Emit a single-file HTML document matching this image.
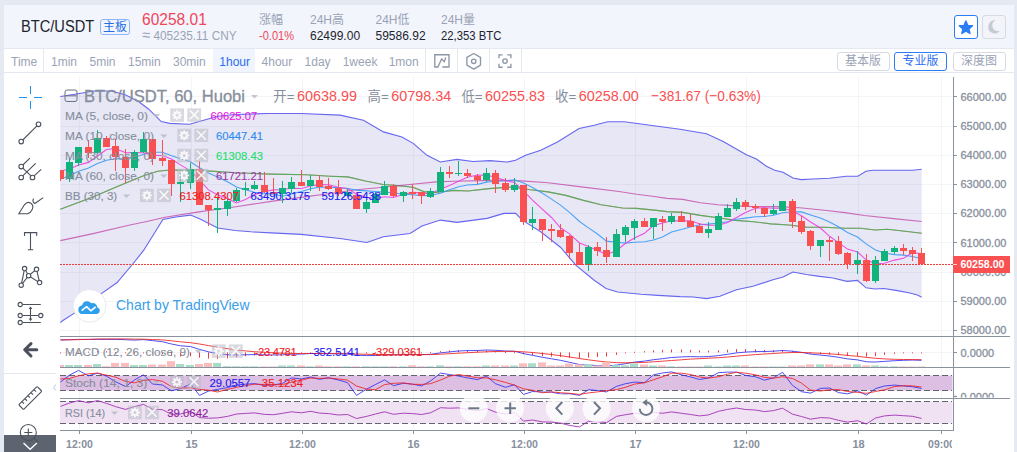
<!DOCTYPE html>
<html><head><meta charset="utf-8"><title>BTC/USDT</title>
<style>
html,body{margin:0;padding:0}
body{width:1017px;height:452px;overflow:hidden;position:relative;background:#e4e9f2;font-family:"Liberation Sans","Noto Sans CJK SC",sans-serif;}
.abs{position:absolute}
#panel{left:4px;top:5px;width:1010px;height:447px;background:#fff}
#hdr{left:4px;top:5px;width:1010px;height:43px;background:#f2f5fc;border-bottom:1px solid #e3e8f1}
#tb{left:4px;top:49px;width:1010px;height:23px;background:#fff;border-bottom:1px solid #e3e8f1}
.t{position:absolute;white-space:nowrap;line-height:1}
.g{color:#9aa3b5}.d{color:#1c242c}.r{color:#f0465a}
.tbi{position:absolute;top:55.5px;font-size:12px;color:#9aa3b5;line-height:1;white-space:nowrap}
.vs{position:absolute;top:49px;width:1px;height:23px;background:#e3e8f1}
.btn{position:absolute;top:52px;width:51px;height:17px;border:1px solid #d5dae3;border-radius:3px;font-size:12px;line-height:17px;text-align:center;color:#9aa3b5;background:#fff}
svg{position:absolute;left:0;top:0}
</style></head><body>
<div class="abs" id="panel"></div>
<div class="abs" id="hdr"></div>
<div class="abs" id="tb"></div>

<div class="t d" style="left:20.7px;top:19.3px;font-size:16px;transform-origin:0 0;transform:scaleX(0.915)">BTC/USDT</div>
<div class="abs" style="left:100px;top:19px;width:28px;height:14px;border:1px solid #8db6fa;border-radius:3px;font-size:12px;line-height:14px;text-align:center;color:#1f6fe8">主板</div>
<div class="t" style="left:142.4px;top:11.5px;font-size:16px;color:#f0465a;transform-origin:0 0;transform:scaleX(0.972)">60258.01</div>
<div class="t g" style="left:142.4px;top:29.3px;font-size:12px;transform-origin:0 0;transform:scaleX(0.985)"><span style="font-size:15px;line-height:12px;vertical-align:-0.5px">≈</span> 405235.11 CNY</div>

<div class="t g" style="left:259px;top:13.5px;font-size:12px">涨幅</div>
<div class="t r" style="left:259px;top:30px;font-size:12px;transform-origin:0 0;transform:scaleX(0.92)">-0.01%</div>
<div class="t g" style="left:310px;top:13.5px;font-size:12px">24H高</div>
<div class="t d" style="left:310px;top:30px;font-size:12px">62499.00</div>
<div class="t g" style="left:375.5px;top:13.5px;font-size:12px">24H低</div>
<div class="t d" style="left:375.5px;top:30px;font-size:12px">59586.92</div>
<div class="t g" style="left:441px;top:13.5px;font-size:12px">24H量</div>
<div class="t d" style="left:441px;top:30px;font-size:12px;transform-origin:0 0;transform:scaleX(0.942)">22,353 BTC</div>

<div class="abs" style="left:954px;top:15px;width:22px;height:22px;border:1px solid #2a7df5;border-radius:3px;background:#fff"></div>
<div class="abs" style="left:982px;top:15px;width:22px;height:22px;border:1px solid #d5dae3;border-radius:3px;background:#f2f4f9"></div>

<div class="abs" style="left:213px;top:49px;width:42px;height:23px;background:#f0f4fc"></div>
<div class="tbi" style="left:11px">Time</div>
<div class="vs" style="left:43px"></div>
<div class="tbi" style="left:51px">1min</div>
<div class="tbi" style="left:89.5px">5min</div>
<div class="tbi" style="left:128px">15min</div>
<div class="tbi" style="left:173px">30min</div>
<div class="tbi" style="left:219.3px;color:#2a6df5">1hour</div>
<div class="tbi" style="left:261.6px">4hour</div>
<div class="tbi" style="left:304.6px">1day</div>
<div class="tbi" style="left:342.7px">1week</div>
<div class="tbi" style="left:388.7px">1mon</div>
<div class="vs" style="left:425px"></div>
<div class="vs" style="left:457px"></div>
<div class="vs" style="left:489px"></div>
<div class="vs" style="left:521px"></div>

<div class="btn" style="left:836.5px">基本版</div>
<div class="btn" style="left:894px;border-color:#2a7df5;color:#2a6df5">专业版</div>
<div class="btn" style="left:952.5px">深度图</div>

<svg width="1017" height="452" viewBox="0 0 1017 452">

<path d="M965.90 20.90L967.78 25.31L972.56 25.74L968.94 28.89L970.01 33.56L965.90 31.10L961.79 33.56L962.86 28.89L959.24 25.74L964.02 25.31z" fill="#2a7df5" stroke="#2a7df5" stroke-width="1.3" stroke-linejoin="round"/>
<path d="M995.6 20.2a6.6 6.6 0 1 0 4.6 10.4a5.6 5.6 0 0 1-4.6-10.4z" fill="#c6cbd6"/>
<g fill="none" stroke="#8c97a8" stroke-width="1.35">
<path d="M438.2 67h-3.400v-12.3h14.2v12.3h-6.700"/><path d="M437.8 67.200l3.900-8.400l2.500 3.100l1.600-4.300" stroke-linejoin="round"/>
<path d="M473.7 53.500l6.800 3.900v7.800l-6.800 3.900l-6.800-3.900v-7.800z" stroke-linejoin="round"/><circle cx="473.7" cy="61.3" r="2.2"/>
<path d="M499 58.300v-3.500h3.600M507.300 54.800h3.600v3.500M510.900 63.700v3.500h-3.600M502.600 67.200h-3.600v-3.500"/><circle cx="505" cy="61.100" r="2.2"/>
</g>
<defs><clipPath id="cp"><rect x="60" y="73" width="893" height="357.5"/></clipPath><clipPath id="cpm"><rect x="60" y="73" width="893" height="263"/></clipPath><clipPath id="cpt"><rect x="60" y="431" width="892" height="21"/></clipPath><clipPath id="cps"><rect x="954" y="368" width="60" height="29.6"/></clipPath></defs>
<g stroke="#f3f4f8" stroke-width="1" shape-rendering="crispEdges"><line x1="60" x2="953" y1="330.5" y2="330.5"/><line x1="60" x2="953" y1="301.5" y2="301.5"/><line x1="60" x2="953" y1="272.5" y2="272.5"/><line x1="60" x2="953" y1="242.5" y2="242.5"/><line x1="60" x2="953" y1="213.5" y2="213.5"/><line x1="60" x2="953" y1="184.5" y2="184.5"/><line x1="60" x2="953" y1="155.5" y2="155.5"/><line x1="60" x2="953" y1="126.5" y2="126.5"/><line x1="60" x2="953" y1="96.5" y2="96.5"/><line x1="79.5" x2="79.5" y1="77" y2="430"/><line x1="191.5" x2="191.5" y1="77" y2="430"/><line x1="302.5" x2="302.5" y1="77" y2="430"/><line x1="413.5" x2="413.5" y1="77" y2="430"/><line x1="524.5" x2="524.5" y1="77" y2="430"/><line x1="635.5" x2="635.5" y1="77" y2="430"/><line x1="746.5" x2="746.5" y1="77" y2="430"/><line x1="858.5" x2="858.5" y1="77" y2="430"/><line x1="941.5" x2="941.5" y1="77" y2="430"/><line x1="60" x2="953" y1="352.5" y2="352.5"/></g>
<g clip-path="url(#cpm)">
<polygon points="60.3,96.5 78.0,93.8 94.0,91.0 111.6,91.0 125.8,95.0 138.2,101.2 148.8,109.2 161.2,121.6 170.0,123.4 189.5,124.2 205.4,119.8 217.8,116.3 235.0,114.5 267.5,113.5 301.0,113.5 340.0,115.1 363.4,120.2 383.5,131.9 401.9,136.9 413.6,143.6 427.0,155.3 440.3,162.0 457.0,159.4 473.0,161.5 490.0,160.6 507.2,162.0 515.6,160.3 525.6,155.3 540.7,150.3 557.4,141.9 579.1,128.5 594.2,125.2 607.6,121.8 624.3,121.8 657.7,126.2 680.0,129.3 706.6,133.8 723.2,141.4 746.4,154.7 756.4,159.0 766.4,166.3 774.7,170.3 783.0,172.3 793.0,178.0 801.3,179.6 812.9,179.0 829.5,178.3 846.1,176.3 857.7,176.3 866.0,171.3 872.7,170.3 896.0,170.3 912.6,170.3 921.7,169.2 921.7,297.3 917.4,295.0 909.8,293.0 896.0,290.4 883.8,288.5 875.0,289.0 866.0,287.8 857.5,280.4 847.0,281.4 832.8,278.0 819.5,276.4 806.2,274.5 793.0,272.0 783.0,277.0 773.0,279.7 753.0,286.3 736.5,289.7 719.9,296.3 706.6,298.6 693.3,297.0 680.0,296.6 657.7,295.4 641.0,294.3 617.6,292.0 606.0,288.5 594.2,280.3 576.0,265.4 560.7,247.5 540.7,231.8 522.3,220.1 515.6,213.4 504.0,213.4 487.2,218.4 457.0,222.4 440.3,220.1 422.0,226.1 410.0,233.5 383.5,236.8 366.8,242.5 340.0,238.5 301.0,234.4 271.0,232.9 250.8,231.8 235.0,230.5 217.7,228.0 200.0,219.0 190.6,215.1 176.0,217.0 162.9,219.4 143.8,250.2 132.8,264.0 116.9,282.8 100.9,293.9 74.4,313.1 63.7,320.0 60.3,322.5" fill="#2a2ab4" fill-opacity="0.115"/>
<polyline points="60.3,209.3 93.0,197.1 108.0,190.5 125.8,183.0 143.5,175.8 157.7,171.3 170.0,170.0 196.6,170.3 214.3,171.4 235.5,172.8 271.0,174.1 306.6,174.8 330.0,176.2 347.7,176.9 365.4,181.0 383.0,184.5 400.8,185.9 413.0,187.2 423.8,191.6 436.0,192.5 454.0,190.4 468.0,191.0 489.0,188.6 505.0,187.4 512.7,187.1 530.4,189.8 548.0,191.9 565.8,195.4 583.5,200.4 601.2,204.8 622.4,208.0 636.6,208.4 654.3,210.1 667.0,211.6 682.7,212.4 700.4,215.4 718.0,217.7 735.8,220.4 753.5,221.8 771.0,223.9 789.0,225.0 806.6,227.1 824.3,227.3 845.0,228.2 860.8,228.3 875.0,230.0 887.3,229.2 905.0,231.3 921.7,233.3" fill="none" stroke="#e53935" stroke-opacity="0.45" stroke-width="1.1"/>
<polyline points="60.3,209.3 93.0,197.1 108.0,190.5 125.8,183.0 143.5,175.8 157.7,171.3 170.0,170.0 196.6,170.3 214.3,171.4 235.5,172.8 271.0,174.1 306.6,174.8 330.0,176.2 347.7,176.9 365.4,181.0 383.0,184.5 400.8,185.9 413.0,187.2 423.8,191.6 436.0,192.5 454.0,190.4 468.0,191.0 489.0,188.6 505.0,187.4 512.7,187.1 530.4,189.8 548.0,191.9 565.8,195.4 583.5,200.4 601.2,204.8 622.4,208.0 636.6,208.4 654.3,210.1 667.0,211.6 682.7,212.4 700.4,215.4 718.0,217.7 735.8,220.4 753.5,221.8 771.0,223.9 789.0,225.0 806.6,227.1 824.3,227.3 845.0,228.2 860.8,228.3 875.0,230.0 887.3,229.2 905.0,231.3 921.7,233.3" fill="none" stroke="#3fae52" stroke-opacity="0.85" stroke-width="1.1"/>
<polyline points="60.3,240.6 93.0,233.6 128.8,225.2 147.9,221.2 165.0,217.3 200.4,211.6 235.8,206.7 271.2,201.4 306.6,196.6 324.3,194.3 356.5,189.8 383.0,187.2 409.6,184.5 436.2,181.9 453.9,181.3 480.4,180.6 500.0,180.2 521.5,180.9 548.0,182.7 583.5,187.1 619.0,191.5 636.6,194.2 654.3,196.5 667.0,198.4 682.7,199.4 700.4,202.7 718.0,204.8 735.8,205.9 753.5,206.6 778.0,206.6 799.5,207.7 824.3,210.3 845.0,212.6 864.3,215.5 896.2,218.9 921.7,221.5" fill="none" stroke="#c03aa0" stroke-opacity="0.72" stroke-width="1.1"/>
<polyline points="60.3,96.5 78.0,93.8 94.0,91.0 111.6,91.0 125.8,95.0 138.2,101.2 148.8,109.2 161.2,121.6 170.0,123.4 189.5,124.2 205.4,119.8 217.8,116.3 235.0,114.5 267.5,113.5 301.0,113.5 340.0,115.1 363.4,120.2 383.5,131.9 401.9,136.9 413.6,143.6 427.0,155.3 440.3,162.0 457.0,159.4 473.0,161.5 490.0,160.6 507.2,162.0 515.6,160.3 525.6,155.3 540.7,150.3 557.4,141.9 579.1,128.5 594.2,125.2 607.6,121.8 624.3,121.8 657.7,126.2 680.0,129.3 706.6,133.8 723.2,141.4 746.4,154.7 756.4,159.0 766.4,166.3 774.7,170.3 783.0,172.3 793.0,178.0 801.3,179.6 812.9,179.0 829.5,178.3 846.1,176.3 857.7,176.3 866.0,171.3 872.7,170.3 896.0,170.3 912.6,170.3 921.7,169.2" fill="none" stroke="#4444ee" stroke-opacity="0.8" stroke-width="1.1"/>
<polyline points="60.3,322.5 63.7,320.0 74.4,313.1 100.9,293.9 116.9,282.8 132.8,264.0 143.8,250.2 162.9,219.4 176.0,217.0 190.6,215.1 200.0,219.0 217.7,228.0 235.0,230.5 250.8,231.8 271.0,232.9 301.0,234.4 340.0,238.5 366.8,242.5 383.5,236.8 410.0,233.5 422.0,226.1 440.3,220.1 457.0,222.4 487.2,218.4 504.0,213.4 515.6,213.4 522.3,220.1 540.7,231.8 560.7,247.5 576.0,265.4 594.2,280.3 606.0,288.5 617.6,292.0 641.0,294.3 657.7,295.4 680.0,296.6 693.3,297.0 706.6,298.6 719.9,296.3 736.5,289.7 753.0,286.3 773.0,279.7 783.0,277.0 793.0,272.0 806.2,274.5 819.5,276.4 832.8,278.0 847.0,281.4 857.5,280.4 866.0,287.8 875.0,289.0 883.8,288.5 896.0,290.4 909.8,293.0 917.4,295.0 921.7,297.3" fill="none" stroke="#4444ee" stroke-opacity="0.8" stroke-width="1.1"/>
<polyline points="60.5,179.0 69.5,175.7 78.5,171.3 88.5,168.0 97.5,163.5 106.5,160.2 115.5,158.8 125.5,158.8 134.5,157.4 143.5,154.3 152.5,152.3 162.5,152.2 171.5,155.8 180.5,158.7 190.5,161.8 199.5,167.7 208.5,172.9 217.5,176.9 227.5,181.8 236.5,186.9 245.5,189.8 254.5,192.3 264.5,193.2 273.5,194.3 282.5,196.2 291.5,193.9 301.5,191.5 310.5,188.7 319.5,187.3 328.5,187.1 338.5,187.8 347.5,188.5 356.5,190.1 366.5,190.9 375.5,191.5 384.5,192.0 393.5,193.0 403.5,194.2 412.5,194.8 421.5,195.6 430.5,195.3 440.5,193.3 449.5,189.8 458.5,186.8 467.5,185.0 477.5,184.4 486.5,182.1 495.5,181.3 505.5,180.9 514.5,179.8 523.5,182.9 532.5,187.6 542.5,193.2 551.5,199.1 560.5,205.1 569.5,212.4 579.5,221.5 588.5,227.9 597.5,234.0 606.5,241.1 616.5,242.3 625.5,243.1 634.5,242.3 644.5,241.8 653.5,240.0 662.5,236.9 671.5,232.0 681.5,229.5 690.5,227.0 699.5,224.7 708.5,224.1 718.5,223.0 727.5,221.7 736.5,219.2 745.5,218.1 755.5,216.7 764.5,216.5 773.5,215.3 782.5,212.8 792.5,211.7 801.5,211.9 810.5,214.9 820.5,218.1 829.5,222.1 838.5,226.8 847.5,232.4 857.5,237.0 866.5,244.1 875.5,250.0 884.5,253.0 894.5,254.6 903.5,255.1 912.5,256.5 921.5,258.7" fill="none" stroke="#3b9bf5" stroke-opacity="0.9" stroke-width="1.1"/>
<polyline points="60.5,171.0 69.5,169.0 78.5,164.9 88.5,162.4 97.5,156.0 106.5,149.5 115.5,148.5 125.5,152.7 134.5,152.5 143.5,152.7 152.5,155.1 162.5,155.8 171.5,159.0 180.5,164.9 190.5,170.9 199.5,180.2 208.5,189.9 217.5,194.8 227.5,198.7 236.5,203.0 245.5,199.4 254.5,194.6 264.5,191.5 273.5,189.9 282.5,189.5 291.5,188.3 301.5,188.5 310.5,186.0 319.5,184.6 328.5,184.7 338.5,187.2 347.5,188.5 356.5,194.2 366.5,197.3 375.5,198.4 384.5,196.8 393.5,197.5 403.5,194.2 412.5,192.4 421.5,192.9 430.5,193.9 440.5,189.1 449.5,185.4 458.5,181.2 467.5,177.2 477.5,175.0 486.5,175.2 495.5,177.2 505.5,180.6 514.5,182.4 523.5,190.9 532.5,200.1 542.5,209.3 551.5,217.5 560.5,227.8 569.5,233.9 579.5,243.0 588.5,246.5 597.5,250.4 606.5,254.4 616.5,250.7 625.5,243.3 634.5,238.1 644.5,233.2 653.5,225.6 662.5,223.0 671.5,220.8 681.5,220.9 690.5,220.8 699.5,223.8 708.5,225.2 718.5,225.2 727.5,222.5 736.5,217.6 745.5,212.4 755.5,208.2 764.5,207.8 773.5,208.2 782.5,208.0 792.5,211.0 801.5,215.7 810.5,222.0 820.5,228.0 829.5,236.3 838.5,242.6 847.5,249.1 857.5,252.0 866.5,260.1 875.5,263.8 884.5,263.3 894.5,260.1 903.5,258.2 912.5,252.8 921.5,253.6" fill="none" stroke="#f03ee0" stroke-opacity="0.9" stroke-width="1.1"/>
<g shape-rendering="crispEdges"><rect x="60" y="170" width="1" height="11" fill="#f95151"/><rect x="69" y="158" width="1" height="24" fill="#12b27c"/><rect x="78" y="147" width="1" height="19" fill="#12b27c"/><rect x="88" y="140" width="1" height="18" fill="#f95151"/><rect x="97" y="130" width="1" height="24" fill="#12b27c"/><rect x="106" y="136" width="1" height="11" fill="#f95151"/><rect x="115" y="139" width="1" height="32" fill="#f95151"/><rect x="125" y="149" width="1" height="34" fill="#f95151"/><rect x="134" y="150" width="1" height="21" fill="#12b27c"/><rect x="143" y="132" width="1" height="21" fill="#12b27c"/><rect x="152" y="139" width="1" height="26" fill="#f95151"/><rect x="162" y="140" width="1" height="26" fill="#f95151"/><rect x="171" y="160" width="1" height="36" fill="#f95151"/><rect x="180" y="172" width="1" height="30" fill="#12b27c"/><rect x="190" y="163" width="1" height="26" fill="#12b27c"/><rect x="199" y="161" width="1" height="44" fill="#f95151"/><rect x="208" y="205" width="1" height="21" fill="#f95151"/><rect x="217" y="198" width="1" height="35" fill="#12b27c"/><rect x="227" y="199" width="1" height="17" fill="#12b27c"/><rect x="236" y="188" width="1" height="14" fill="#12b27c"/><rect x="245" y="182" width="1" height="14" fill="#12b27c"/><rect x="254" y="181" width="1" height="9" fill="#12b27c"/><rect x="264" y="172" width="1" height="21" fill="#f95151"/><rect x="273" y="178" width="1" height="16" fill="#f95151"/><rect x="282" y="181" width="1" height="22" fill="#12b27c"/><rect x="291" y="177" width="1" height="16" fill="#12b27c"/><rect x="301" y="170" width="1" height="16" fill="#f95151"/><rect x="310" y="175" width="1" height="16" fill="#12b27c"/><rect x="319" y="175" width="1" height="16" fill="#f95151"/><rect x="328" y="178" width="1" height="12" fill="#f95151"/><rect x="338" y="180" width="1" height="16" fill="#f95151"/><rect x="347" y="188" width="1" height="8" fill="#12b27c"/><rect x="356" y="192" width="1" height="17" fill="#f95151"/><rect x="366" y="200" width="1" height="13" fill="#12b27c"/><rect x="375" y="192" width="1" height="11" fill="#12b27c"/><rect x="384" y="181" width="1" height="14" fill="#12b27c"/><rect x="393" y="184" width="1" height="13" fill="#f95151"/><rect x="403" y="191" width="1" height="11" fill="#12b27c"/><rect x="412" y="184" width="1" height="15" fill="#f95151"/><rect x="421" y="192" width="1" height="12" fill="#f95151"/><rect x="430" y="188" width="1" height="10" fill="#12b27c"/><rect x="440" y="167" width="1" height="25" fill="#12b27c"/><rect x="449" y="166" width="1" height="12" fill="#f95151"/><rect x="458" y="161" width="1" height="15" fill="#12b27c"/><rect x="467" y="169" width="1" height="9" fill="#f95151"/><rect x="477" y="174" width="1" height="10" fill="#f95151"/><rect x="486" y="168" width="1" height="14" fill="#12b27c"/><rect x="495" y="170" width="1" height="23" fill="#f95151"/><rect x="505" y="178" width="1" height="14" fill="#f95151"/><rect x="514" y="178" width="1" height="14" fill="#12b27c"/><rect x="523" y="185" width="1" height="40" fill="#f95151"/><rect x="532" y="207" width="1" height="23" fill="#12b27c"/><rect x="542" y="219" width="1" height="22" fill="#f95151"/><rect x="551" y="224" width="1" height="18" fill="#f95151"/><rect x="560" y="224" width="1" height="14" fill="#f95151"/><rect x="569" y="235" width="1" height="24" fill="#f95151"/><rect x="579" y="243" width="1" height="22" fill="#f95151"/><rect x="588" y="245" width="1" height="26" fill="#12b27c"/><rect x="597" y="242" width="1" height="14" fill="#f95151"/><rect x="606" y="237" width="1" height="26" fill="#f95151"/><rect x="616" y="229" width="1" height="28" fill="#12b27c"/><rect x="625" y="225" width="1" height="17" fill="#12b27c"/><rect x="634" y="219" width="1" height="21" fill="#12b27c"/><rect x="644" y="218" width="1" height="9" fill="#f95151"/><rect x="653" y="218" width="1" height="21" fill="#12b27c"/><rect x="662" y="216" width="1" height="15" fill="#f95151"/><rect x="671" y="213" width="1" height="11" fill="#12b27c"/><rect x="681" y="211" width="1" height="11" fill="#f95151"/><rect x="690" y="214" width="1" height="13" fill="#f95151"/><rect x="699" y="223" width="1" height="10" fill="#f95151"/><rect x="708" y="222" width="1" height="16" fill="#12b27c"/><rect x="718" y="213" width="1" height="17" fill="#12b27c"/><rect x="727" y="204" width="1" height="13" fill="#12b27c"/><rect x="736" y="198" width="1" height="13" fill="#12b27c"/><rect x="745" y="200" width="1" height="10" fill="#f95151"/><rect x="755" y="204" width="1" height="9" fill="#f95151"/><rect x="764" y="207" width="1" height="10" fill="#f95151"/><rect x="773" y="204" width="1" height="11" fill="#12b27c"/><rect x="782" y="201" width="1" height="10" fill="#12b27c"/><rect x="792" y="199" width="1" height="29" fill="#f95151"/><rect x="801" y="216" width="1" height="18" fill="#f95151"/><rect x="810" y="230" width="1" height="20" fill="#f95151"/><rect x="820" y="240" width="1" height="17" fill="#12b27c"/><rect x="829" y="237" width="1" height="24" fill="#f95151"/><rect x="838" y="236" width="1" height="19" fill="#f95151"/><rect x="847" y="252" width="1" height="17" fill="#f95151"/><rect x="857" y="251" width="1" height="23" fill="#12b27c"/><rect x="866" y="254" width="1" height="28" fill="#f95151"/><rect x="875" y="256" width="1" height="27" fill="#12b27c"/><rect x="884" y="249" width="1" height="12" fill="#12b27c"/><rect x="894" y="246" width="1" height="8" fill="#12b27c"/><rect x="903" y="244" width="1" height="11" fill="#f95151"/><rect x="912" y="247" width="1" height="14" fill="#f95151"/><rect x="921" y="248" width="1" height="16" fill="#f95151"/><rect x="57" y="170" width="7" height="9" fill="#f95151"/><rect x="66" y="162" width="7" height="17" fill="#12b27c"/><rect x="75" y="147" width="7" height="16" fill="#12b27c"/><rect x="85" y="147" width="7" height="6" fill="#f95151"/><rect x="94" y="138" width="7" height="15" fill="#12b27c"/><rect x="103" y="138" width="7" height="9" fill="#f95151"/><rect x="112" y="146" width="7" height="11" fill="#f95151"/><rect x="122" y="157" width="7" height="11" fill="#f95151"/><rect x="131" y="152" width="7" height="16" fill="#12b27c"/><rect x="140" y="139" width="7" height="13" fill="#12b27c"/><rect x="149" y="139" width="7" height="20" fill="#f95151"/><rect x="159" y="158" width="7" height="3" fill="#f95151"/><rect x="168" y="160" width="7" height="24" fill="#f95151"/><rect x="177" y="182" width="7" height="2" fill="#12b27c"/><rect x="187" y="169" width="7" height="14" fill="#12b27c"/><rect x="196" y="169" width="7" height="36" fill="#f95151"/><rect x="205" y="205" width="7" height="5" fill="#f95151"/><rect x="214" y="208" width="7" height="2" fill="#12b27c"/><rect x="224" y="201" width="7" height="8" fill="#12b27c"/><rect x="233" y="190" width="7" height="11" fill="#12b27c"/><rect x="242" y="188" width="7" height="2" fill="#12b27c"/><rect x="251" y="185" width="7" height="4" fill="#12b27c"/><rect x="261" y="185" width="7" height="7" fill="#f95151"/><rect x="270" y="192" width="7" height="2" fill="#f95151"/><rect x="279" y="188" width="7" height="6" fill="#12b27c"/><rect x="288" y="182" width="7" height="7" fill="#12b27c"/><rect x="298" y="182" width="7" height="4" fill="#f95151"/><rect x="307" y="180" width="7" height="6" fill="#12b27c"/><rect x="316" y="180" width="7" height="7" fill="#f95151"/><rect x="325" y="186" width="7" height="3" fill="#f95151"/><rect x="335" y="188" width="7" height="6" fill="#f95151"/><rect x="344" y="192" width="7" height="4" fill="#12b27c"/><rect x="353" y="195" width="7" height="14" fill="#f95151"/><rect x="363" y="202" width="7" height="7" fill="#12b27c"/><rect x="372" y="194" width="7" height="9" fill="#12b27c"/><rect x="381" y="186" width="7" height="9" fill="#12b27c"/><rect x="390" y="186" width="7" height="10" fill="#f95151"/><rect x="400" y="192" width="7" height="4" fill="#12b27c"/><rect x="409" y="192" width="7" height="2" fill="#f95151"/><rect x="418" y="192" width="7" height="4" fill="#f95151"/><rect x="427" y="191" width="7" height="6" fill="#12b27c"/><rect x="437" y="172" width="7" height="20" fill="#12b27c"/><rect x="446" y="172" width="7" height="2" fill="#f95151"/><rect x="455" y="173" width="7" height="1" fill="#12b27c"/><rect x="464" y="173" width="7" height="3" fill="#f95151"/><rect x="474" y="176" width="7" height="4" fill="#f95151"/><rect x="483" y="173" width="7" height="7" fill="#12b27c"/><rect x="492" y="173" width="7" height="11" fill="#f95151"/><rect x="502" y="183" width="7" height="7" fill="#f95151"/><rect x="511" y="185" width="7" height="5" fill="#12b27c"/><rect x="520" y="185" width="7" height="37" fill="#f95151"/><rect x="529" y="219" width="7" height="4" fill="#12b27c"/><rect x="539" y="219" width="7" height="11" fill="#f95151"/><rect x="548" y="229" width="7" height="2" fill="#f95151"/><rect x="557" y="230" width="7" height="7" fill="#f95151"/><rect x="566" y="236" width="7" height="17" fill="#f95151"/><rect x="576" y="252" width="7" height="13" fill="#f95151"/><rect x="585" y="247" width="7" height="18" fill="#12b27c"/><rect x="594" y="247" width="7" height="4" fill="#f95151"/><rect x="603" y="250" width="7" height="7" fill="#f95151"/><rect x="613" y="234" width="7" height="23" fill="#12b27c"/><rect x="622" y="227" width="7" height="8" fill="#12b27c"/><rect x="631" y="221" width="7" height="7" fill="#12b27c"/><rect x="641" y="221" width="7" height="6" fill="#f95151"/><rect x="650" y="218" width="7" height="9" fill="#12b27c"/><rect x="659" y="219" width="7" height="3" fill="#f95151"/><rect x="668" y="216" width="7" height="6" fill="#12b27c"/><rect x="678" y="216" width="7" height="6" fill="#f95151"/><rect x="687" y="221" width="7" height="6" fill="#f95151"/><rect x="696" y="226" width="7" height="7" fill="#f95151"/><rect x="705" y="229" width="7" height="4" fill="#12b27c"/><rect x="715" y="216" width="7" height="14" fill="#12b27c"/><rect x="724" y="208" width="7" height="9" fill="#12b27c"/><rect x="733" y="202" width="7" height="7" fill="#12b27c"/><rect x="742" y="202" width="7" height="5" fill="#f95151"/><rect x="752" y="206" width="7" height="2" fill="#f95151"/><rect x="761" y="208" width="7" height="6" fill="#f95151"/><rect x="770" y="210" width="7" height="4" fill="#12b27c"/><rect x="779" y="201" width="7" height="10" fill="#12b27c"/><rect x="789" y="201" width="7" height="21" fill="#f95151"/><rect x="798" y="221" width="7" height="11" fill="#f95151"/><rect x="807" y="231" width="7" height="15" fill="#f95151"/><rect x="817" y="240" width="7" height="6" fill="#12b27c"/><rect x="826" y="240" width="7" height="2" fill="#f95151"/><rect x="835" y="241" width="7" height="13" fill="#f95151"/><rect x="844" y="253" width="7" height="11" fill="#f95151"/><rect x="854" y="260" width="7" height="4" fill="#12b27c"/><rect x="863" y="260" width="7" height="21" fill="#f95151"/><rect x="872" y="260" width="7" height="21" fill="#12b27c"/><rect x="881" y="251" width="7" height="10" fill="#12b27c"/><rect x="891" y="248" width="7" height="4" fill="#12b27c"/><rect x="900" y="248" width="7" height="3" fill="#f95151"/><rect x="909" y="250" width="7" height="4" fill="#f95151"/><rect x="918" y="253" width="7" height="11" fill="#f95151"/></g>
</g>
<line x1="60" x2="953" y1="264.5" y2="264.5" stroke="#f23c3c" stroke-width="1" stroke-dasharray="2 1" shape-rendering="crispEdges"/>
<g clip-path="url(#cp)">
<g fill="#f23c3c"><rect x="60" y="352.4" width="1" height="1.0"/><rect x="69" y="352.3" width="1" height="1.0"/><rect x="78" y="351.6" width="1" height="1.0"/><rect x="88" y="351.6" width="1" height="1.0"/><rect x="97" y="351.0" width="1" height="1.4"/><rect x="106" y="351.2" width="1" height="1.2"/><rect x="115" y="352.1" width="1" height="1.0"/><rect x="125" y="352.4" width="1" height="1.0"/><rect x="134" y="352.4" width="1" height="1.0"/><rect x="143" y="352.4" width="1" height="1.0"/><rect x="152" y="352.4" width="1" height="1.1"/><rect x="162" y="352.4" width="1" height="1.7"/><rect x="171" y="352.4" width="1" height="3.3"/><rect x="180" y="352.4" width="1" height="4.1"/><rect x="190" y="352.4" width="1" height="3.8"/><rect x="199" y="352.4" width="1" height="5.3"/><rect x="208" y="352.4" width="1" height="6.2"/><rect x="217" y="352.4" width="1" height="6.5"/><rect x="227" y="352.4" width="1" height="6.0"/><rect x="236" y="352.4" width="1" height="4.9"/><rect x="245" y="352.4" width="1" height="3.9"/><rect x="254" y="352.4" width="1" height="2.9"/><rect x="264" y="352.4" width="1" height="2.5"/><rect x="273" y="352.4" width="1" height="2.2"/><rect x="282" y="352.4" width="1" height="1.6"/><rect x="291" y="352.4" width="1" height="1.0"/><rect x="301" y="352.4" width="1" height="1.0"/><rect x="310" y="352.4" width="1" height="1.0"/><rect x="319" y="352.3" width="1" height="1.0"/><rect x="328" y="352.4" width="1" height="1.0"/><rect x="338" y="352.4" width="1" height="1.0"/><rect x="347" y="352.4" width="1" height="1.0"/><rect x="356" y="352.4" width="1" height="1.2"/><rect x="366" y="352.4" width="1" height="1.3"/><rect x="375" y="352.4" width="1" height="1.0"/><rect x="384" y="352.4" width="1" height="1.0"/><rect x="393" y="352.4" width="1" height="1.0"/><rect x="403" y="352.4" width="1" height="1.0"/><rect x="412" y="352.3" width="1" height="1.0"/><rect x="421" y="352.4" width="1" height="1.0"/><rect x="430" y="352.1" width="1" height="1.0"/><rect x="440" y="351.1" width="1" height="1.3"/><rect x="449" y="350.5" width="1" height="1.9"/><rect x="458" y="350.2" width="1" height="2.2"/><rect x="467" y="350.3" width="1" height="2.1"/><rect x="477" y="350.7" width="1" height="1.7"/><rect x="486" y="350.6" width="1" height="1.8"/><rect x="495" y="351.2" width="1" height="1.2"/><rect x="505" y="352.0" width="1" height="1.0"/><rect x="514" y="352.2" width="1" height="1.0"/><rect x="523" y="352.4" width="1" height="1.8"/><rect x="532" y="352.4" width="1" height="2.8"/><rect x="542" y="352.4" width="1" height="3.8"/><rect x="551" y="352.4" width="1" height="4.3"/><rect x="560" y="352.4" width="1" height="4.6"/><rect x="569" y="352.4" width="1" height="5.3"/><rect x="579" y="352.4" width="1" height="6.0"/><rect x="588" y="352.4" width="1" height="5.2"/><rect x="597" y="352.4" width="1" height="4.6"/><rect x="606" y="352.4" width="1" height="4.1"/><rect x="616" y="352.4" width="1" height="2.5"/><rect x="625" y="352.4" width="1" height="1.0"/><rect x="634" y="351.8" width="1" height="1.0"/><rect x="644" y="351.1" width="1" height="1.3"/><rect x="653" y="350.3" width="1" height="2.1"/><rect x="662" y="349.9" width="1" height="2.5"/><rect x="671" y="349.5" width="1" height="2.9"/><rect x="681" y="349.5" width="1" height="2.9"/><rect x="690" y="349.9" width="1" height="2.5"/><rect x="699" y="350.5" width="1" height="1.9"/><rect x="708" y="350.7" width="1" height="1.7"/><rect x="718" y="350.3" width="1" height="2.1"/><rect x="727" y="349.7" width="1" height="2.7"/><rect x="736" y="349.1" width="1" height="3.3"/><rect x="745" y="349.1" width="1" height="3.3"/><rect x="755" y="349.4" width="1" height="3.0"/><rect x="764" y="349.9" width="1" height="2.5"/><rect x="773" y="350.2" width="1" height="2.2"/><rect x="782" y="350.0" width="1" height="2.4"/><rect x="792" y="351.0" width="1" height="1.4"/><rect x="801" y="352.2" width="1" height="1.0"/><rect x="810" y="352.4" width="1" height="1.3"/><rect x="820" y="352.4" width="1" height="1.8"/><rect x="829" y="352.4" width="1" height="2.2"/><rect x="838" y="352.4" width="1" height="2.8"/><rect x="847" y="352.4" width="1" height="3.6"/><rect x="857" y="352.4" width="1" height="3.6"/><rect x="866" y="352.4" width="1" height="4.4"/><rect x="875" y="352.4" width="1" height="3.7"/><rect x="884" y="352.4" width="1" height="2.5"/><rect x="894" y="352.4" width="1" height="1.4"/><rect x="903" y="352.4" width="1" height="1.0"/><rect x="912" y="352.4" width="1" height="1.0"/><rect x="921" y="352.4" width="1" height="1.0"/></g>
<polyline points="60.5,340.0 69.5,339.7 78.5,339.4 88.5,339.4 97.5,339.4 106.5,339.4 115.5,339.4 125.5,339.7 134.5,340.1 143.5,339.6 152.5,340.6 162.5,341.7 171.5,344.0 180.5,345.8 190.5,346.5 199.5,349.4 208.5,351.8 217.5,353.7 227.5,354.8 236.5,354.9 245.5,354.8 254.5,354.6 264.5,354.8 273.5,355.0 282.5,354.8 291.5,354.3 301.5,354.0 310.5,353.5 319.5,353.5 328.5,353.6 338.5,353.9 347.5,354.1 356.5,355.2 366.5,355.6 375.5,355.5 384.5,354.8 393.5,354.9 403.5,354.6 412.5,354.5 421.5,354.6 430.5,354.3 440.5,352.9 449.5,351.9 458.5,351.0 467.5,350.6 477.5,350.5 486.5,350.0 495.5,350.3 505.5,351.0 514.5,351.2 523.5,353.6 532.5,355.3 542.5,357.3 551.5,358.8 560.5,360.3 569.5,362.3 579.5,364.5 588.5,365.1 597.5,365.6 606.5,366.1 616.5,365.1 625.5,363.7 634.5,362.1 644.5,361.1 653.5,359.7 662.5,358.7 671.5,357.5 681.5,356.9 690.5,356.6 699.5,356.8 708.5,356.6 718.5,355.6 727.5,354.3 736.5,352.9 745.5,352.1 755.5,351.6 764.5,351.5 773.5,351.2 782.5,350.5 792.5,351.2 801.5,352.3 810.5,354.1 820.5,355.1 829.5,356.0 838.5,357.3 847.5,358.9 857.5,359.9 866.5,361.8 875.5,362.0 884.5,361.4 894.5,360.7 903.5,360.3 912.5,360.0 921.5,360.3" fill="none" stroke="#3030f0" stroke-opacity="0.85" stroke-width="1"/>
<polyline points="60.5,339.8 69.5,339.8 78.5,339.6 88.5,339.4 97.5,339.0 106.5,338.9 115.5,338.9 125.5,338.9 134.5,339.1 143.5,339.2 152.5,339.5 162.5,339.9 171.5,340.8 180.5,341.8 190.5,342.7 199.5,344.0 208.5,345.6 217.5,347.2 227.5,348.7 236.5,350.0 245.5,350.9 254.5,351.7 264.5,352.3 273.5,352.8 282.5,353.2 291.5,353.4 301.5,353.6 310.5,353.5 319.5,353.5 328.5,353.5 338.5,353.6 347.5,353.7 356.5,354.0 366.5,354.3 375.5,354.6 384.5,354.6 393.5,354.7 403.5,354.7 412.5,354.6 421.5,354.6 430.5,354.6 440.5,354.2 449.5,353.7 458.5,353.2 467.5,352.7 477.5,352.2 486.5,351.8 495.5,351.5 505.5,351.4 514.5,351.4 523.5,351.8 532.5,352.5 542.5,353.5 551.5,354.5 560.5,355.7 569.5,357.0 579.5,358.5 588.5,359.8 597.5,361.0 606.5,362.0 616.5,362.6 625.5,362.8 634.5,362.7 644.5,362.4 653.5,361.8 662.5,361.2 671.5,360.5 681.5,359.8 690.5,359.1 699.5,358.7 708.5,358.2 718.5,357.7 727.5,357.0 736.5,356.2 745.5,355.4 755.5,354.6 764.5,354.0 773.5,353.5 782.5,352.9 792.5,352.5 801.5,352.5 810.5,352.8 820.5,353.3 829.5,353.8 838.5,354.5 847.5,355.4 857.5,356.3 866.5,357.4 875.5,358.3 884.5,358.9 894.5,359.3 903.5,359.5 912.5,359.6 921.5,359.7" fill="none" stroke="#f02020" stroke-opacity="0.85" stroke-width="1"/>
<rect x="56" y="365.0" width="8" height="2.2" fill="#f9bdbd"/><rect x="65" y="365.0" width="8" height="2.2" fill="#a7dcc9"/><rect x="74" y="365.0" width="8" height="2.2" fill="#a7dcc9"/><rect x="84" y="365.0" width="8" height="2.2" fill="#f9bdbd"/><rect x="93" y="364.0" width="8" height="3.2" fill="#a7dcc9"/><rect x="102" y="366.2" width="8" height="1.0" fill="#f9bdbd"/><rect x="111" y="362.9" width="8" height="4.3" fill="#f9bdbd"/><rect x="121" y="362.9" width="8" height="4.3" fill="#f9bdbd"/><rect x="130" y="365.0" width="8" height="2.2" fill="#a7dcc9"/><rect x="139" y="365.0" width="8" height="2.2" fill="#a7dcc9"/><rect x="148" y="364.6" width="8" height="2.6" fill="#f9bdbd"/><rect x="158" y="364.6" width="8" height="2.6" fill="#f9bdbd"/><rect x="167" y="361.2" width="8" height="6.0" fill="#f9bdbd"/><rect x="176" y="364.0" width="8" height="3.2" fill="#a7dcc9"/><rect x="186" y="365.0" width="8" height="2.2" fill="#a7dcc9"/><rect x="195" y="364.0" width="8" height="3.2" fill="#f9bdbd"/><rect x="204" y="362.9" width="8" height="4.3" fill="#f9bdbd"/><rect x="213" y="362.9" width="8" height="4.3" fill="#a7dcc9"/><rect x="223" y="366.2" width="8" height="1.0" fill="#a7dcc9"/><rect x="232" y="366.3" width="8" height="0.9" fill="#a7dcc9"/><rect x="241" y="366.3" width="8" height="0.9" fill="#a7dcc9"/><rect x="250" y="366.3" width="8" height="0.9" fill="#a7dcc9"/><rect x="260" y="366.5" width="8" height="0.7" fill="#f9bdbd"/><rect x="269" y="366.5" width="8" height="0.7" fill="#f9bdbd"/><rect x="278" y="365.5" width="8" height="1.7" fill="#a7dcc9"/><rect x="287" y="365.5" width="8" height="1.7" fill="#a7dcc9"/><rect x="297" y="365.5" width="8" height="1.7" fill="#f9bdbd"/><rect x="306" y="366.3" width="8" height="0.9" fill="#a7dcc9"/><rect x="315" y="365.5" width="8" height="1.7" fill="#f9bdbd"/><rect x="324" y="366.3" width="8" height="0.9" fill="#f9bdbd"/><rect x="334" y="366.3" width="8" height="0.9" fill="#f9bdbd"/><rect x="343" y="366.3" width="8" height="0.9" fill="#a7dcc9"/><rect x="352" y="366.3" width="8" height="0.9" fill="#f9bdbd"/><rect x="362" y="366.3" width="8" height="0.9" fill="#a7dcc9"/><rect x="371" y="366.3" width="8" height="0.9" fill="#a7dcc9"/><rect x="380" y="366.3" width="8" height="0.9" fill="#a7dcc9"/><rect x="389" y="366.3" width="8" height="0.9" fill="#f9bdbd"/><rect x="399" y="366.3" width="8" height="0.9" fill="#a7dcc9"/><rect x="408" y="365.3" width="8" height="1.9" fill="#f9bdbd"/><rect x="417" y="366.3" width="8" height="0.9" fill="#f9bdbd"/><rect x="426" y="366.3" width="8" height="0.9" fill="#a7dcc9"/><rect x="436" y="365.3" width="8" height="1.9" fill="#a7dcc9"/><rect x="445" y="366.3" width="8" height="0.9" fill="#f9bdbd"/><rect x="454" y="366.3" width="8" height="0.9" fill="#a7dcc9"/><rect x="463" y="366.3" width="8" height="0.9" fill="#f9bdbd"/><rect x="473" y="366.3" width="8" height="0.9" fill="#f9bdbd"/><rect x="482" y="365.5" width="8" height="1.7" fill="#a7dcc9"/><rect x="491" y="365.5" width="8" height="1.7" fill="#f9bdbd"/><rect x="501" y="365.5" width="8" height="1.7" fill="#f9bdbd"/><rect x="510" y="365.5" width="8" height="1.7" fill="#a7dcc9"/><rect x="519" y="363.3" width="8" height="3.9" fill="#f9bdbd"/><rect x="528" y="363.3" width="8" height="3.9" fill="#a7dcc9"/><rect x="538" y="362.4" width="8" height="4.8" fill="#f9bdbd"/><rect x="547" y="365.5" width="8" height="1.7" fill="#f9bdbd"/><rect x="556" y="365.5" width="8" height="1.7" fill="#f9bdbd"/><rect x="565" y="363.5" width="8" height="3.7" fill="#f9bdbd"/><rect x="575" y="364.4" width="8" height="2.8" fill="#f9bdbd"/><rect x="584" y="364.4" width="8" height="2.8" fill="#a7dcc9"/><rect x="593" y="365.5" width="8" height="1.7" fill="#f9bdbd"/><rect x="602" y="362.4" width="8" height="4.8" fill="#f9bdbd"/><rect x="612" y="365.2" width="8" height="2.0" fill="#a7dcc9"/><rect x="621" y="365.3" width="8" height="1.9" fill="#a7dcc9"/><rect x="630" y="363.5" width="8" height="3.7" fill="#a7dcc9"/><rect x="640" y="364.6" width="8" height="2.6" fill="#f9bdbd"/><rect x="649" y="365.5" width="8" height="1.7" fill="#a7dcc9"/><rect x="658" y="365.5" width="8" height="1.7" fill="#f9bdbd"/><rect x="667" y="366.3" width="8" height="0.9" fill="#a7dcc9"/><rect x="677" y="366.5" width="8" height="0.7" fill="#f9bdbd"/><rect x="686" y="366.5" width="8" height="0.7" fill="#f9bdbd"/><rect x="695" y="366.5" width="8" height="0.7" fill="#f9bdbd"/><rect x="704" y="365.5" width="8" height="1.7" fill="#a7dcc9"/><rect x="714" y="366.5" width="8" height="0.7" fill="#a7dcc9"/><rect x="723" y="365.5" width="8" height="1.7" fill="#a7dcc9"/><rect x="732" y="365.5" width="8" height="1.7" fill="#a7dcc9"/><rect x="741" y="365.5" width="8" height="1.7" fill="#f9bdbd"/><rect x="751" y="366.5" width="8" height="0.7" fill="#f9bdbd"/><rect x="760" y="366.5" width="8" height="0.7" fill="#f9bdbd"/><rect x="769" y="366.5" width="8" height="0.7" fill="#a7dcc9"/><rect x="778" y="366.5" width="8" height="0.7" fill="#a7dcc9"/><rect x="788" y="365.5" width="8" height="1.7" fill="#f9bdbd"/><rect x="797" y="365.5" width="8" height="1.7" fill="#f9bdbd"/><rect x="806" y="364.4" width="8" height="2.8" fill="#f9bdbd"/><rect x="816" y="364.4" width="8" height="2.8" fill="#a7dcc9"/><rect x="825" y="364.4" width="8" height="2.8" fill="#f9bdbd"/><rect x="834" y="365.5" width="8" height="1.7" fill="#f9bdbd"/><rect x="843" y="364.4" width="8" height="2.8" fill="#f9bdbd"/><rect x="853" y="364.4" width="8" height="2.8" fill="#a7dcc9"/><rect x="862" y="365.5" width="8" height="1.7" fill="#f9bdbd"/><rect x="871" y="365.5" width="8" height="1.7" fill="#a7dcc9"/><rect x="880" y="366.3" width="8" height="0.9" fill="#a7dcc9"/><rect x="890" y="366.3" width="8" height="0.9" fill="#a7dcc9"/><rect x="899" y="366.5" width="8" height="0.7" fill="#f9bdbd"/><rect x="908" y="366.5" width="8" height="0.7" fill="#f9bdbd"/><rect x="917" y="366.5" width="8" height="0.7" fill="#f9bdbd"/>
<rect x="60" y="375.5" width="892.5" height="15" fill="#dcbfe2"/>
<g stroke="#5f646d" stroke-width="1" stroke-dasharray="6 3" shape-rendering="crispEdges"><line x1="60" x2="952" y1="375.5" y2="375.5"/><line x1="60" x2="952" y1="390.5" y2="390.5"/></g>
<polyline points="60.5,382.0 69.5,375.1 78.5,370.4 88.5,375.8 97.5,373.2 106.5,376.2 115.5,381.7 125.5,386.5 134.5,380.0 143.5,374.8 152.5,384.0 162.5,385.0 171.5,390.8 180.5,388.5 190.5,384.0 199.5,395.4 208.5,391.1 217.5,389.4 227.5,387.6 236.5,384.9 245.5,384.2 254.5,383.6 264.5,385.4 273.5,384.9 282.5,383.4 291.5,377.9 301.5,379.0 310.5,377.0 319.5,379.3 328.5,377.8 338.5,380.0 347.5,382.6 356.5,395.4 366.5,389.2 375.5,384.5 384.5,379.9 393.5,385.6 403.5,383.3 412.5,384.1 421.5,385.9 430.5,381.0 440.5,373.1 449.5,374.5 458.5,376.0 467.5,377.9 477.5,379.6 486.5,376.2 495.5,383.7 505.5,387.3 514.5,384.7 523.5,394.5 532.5,391.5 542.5,392.0 551.5,392.1 560.5,394.0 569.5,393.7 579.5,395.4 588.5,389.7 597.5,390.5 606.5,391.9 616.5,386.4 625.5,383.7 634.5,382.1 644.5,382.6 653.5,374.8 662.5,373.0 671.5,371.9 681.5,374.8 690.5,376.9 699.5,379.5 708.5,378.0 718.5,372.7 727.5,372.1 736.5,372.1 745.5,375.4 755.5,376.8 764.5,380.1 773.5,377.9 782.5,372.3 792.5,385.4 801.5,391.7 810.5,393.1 820.5,388.4 829.5,388.0 838.5,392.6 847.5,393.8 857.5,390.9 866.5,395.1 875.5,388.6 884.5,386.0 894.5,385.1 903.5,385.9 912.5,386.7 921.5,388.5" fill="none" stroke="#3030f0" stroke-opacity="0.85" stroke-width="1"/>
<polyline points="60.5,379.0 69.5,378.4 78.5,375.8 88.5,373.8 97.5,373.1 106.5,375.1 115.5,377.1 125.5,381.5 134.5,382.8 143.5,380.4 152.5,379.6 162.5,381.3 171.5,386.6 180.5,388.1 190.5,387.8 199.5,389.3 208.5,390.2 217.5,392.0 227.5,389.4 236.5,387.3 245.5,385.6 254.5,384.2 264.5,384.4 273.5,384.7 282.5,384.6 291.5,382.1 301.5,380.1 310.5,378.0 319.5,378.4 328.5,378.0 338.5,379.0 347.5,380.1 356.5,386.0 366.5,389.1 375.5,389.7 384.5,384.6 393.5,383.3 403.5,382.9 412.5,384.3 421.5,384.4 430.5,383.7 440.5,380.0 449.5,376.2 458.5,374.5 467.5,376.1 477.5,377.8 486.5,377.9 495.5,379.8 505.5,382.4 514.5,385.2 523.5,388.8 532.5,390.3 542.5,392.7 551.5,391.9 560.5,392.7 569.5,393.3 579.5,394.4 588.5,392.9 597.5,391.9 606.5,390.7 616.5,389.6 625.5,387.3 634.5,384.1 644.5,382.8 653.5,379.8 662.5,376.8 671.5,373.2 681.5,373.2 690.5,374.5 699.5,377.0 708.5,378.1 718.5,376.7 727.5,374.2 736.5,372.3 745.5,373.2 755.5,374.8 764.5,377.4 773.5,378.2 782.5,376.7 792.5,378.5 801.5,383.1 810.5,390.1 820.5,391.0 829.5,389.8 838.5,389.6 847.5,391.5 857.5,392.4 866.5,393.3 875.5,391.5 884.5,389.9 894.5,386.6 903.5,385.7 912.5,385.9 921.5,387.0" fill="none" stroke="#f02020" stroke-opacity="0.85" stroke-width="1"/>
<rect x="60" y="401.5" width="892.5" height="22" fill="#f0e2f3"/>
<g stroke="#5f646d" stroke-width="1" stroke-dasharray="6 3" shape-rendering="crispEdges"><line x1="60" x2="952" y1="401.5" y2="401.5"/><line x1="60" x2="952" y1="423.5" y2="423.5"/></g>
<polyline points="60.5,406.4 69.5,403.0 78.5,400.6 88.5,402.8 97.5,400.5 106.5,403.4 115.5,406.6 125.5,409.4 134.5,406.6 143.5,404.4 152.5,409.2 162.5,409.7 171.5,414.4 180.5,414.0 190.5,411.4 199.5,417.6 208.5,418.2 217.5,417.9 227.5,416.4 236.5,414.0 245.5,413.4 254.5,412.9 264.5,414.4 273.5,414.7 282.5,413.3 291.5,411.8 301.5,412.8 310.5,411.3 319.5,413.1 328.5,413.6 338.5,415.0 347.5,414.5 356.5,418.5 366.5,416.4 375.5,414.0 384.5,411.8 393.5,414.3 403.5,413.2 412.5,413.6 421.5,414.5 430.5,412.8 440.5,407.7 449.5,408.2 458.5,407.9 467.5,409.3 477.5,410.6 486.5,408.5 495.5,412.2 505.5,414.1 514.5,412.6 523.5,421.1 532.5,420.0 542.5,421.9 551.5,422.1 560.5,423.1 569.5,425.4 579.5,426.9 588.5,421.2 597.5,421.7 606.5,422.6 616.5,416.4 625.5,414.7 634.5,413.3 644.5,414.5 653.5,412.4 662.5,413.3 671.5,411.9 681.5,413.3 690.5,414.5 699.5,415.9 708.5,414.9 718.5,411.3 727.5,409.4 736.5,408.0 745.5,409.5 755.5,410.0 764.5,411.6 773.5,410.6 782.5,408.2 792.5,414.2 801.5,416.5 810.5,419.2 820.5,417.6 829.5,418.0 838.5,420.3 847.5,422.1 857.5,420.7 866.5,424.0 875.5,418.0 884.5,415.9 894.5,415.1 903.5,415.7 912.5,416.3 921.5,418.4" fill="none" stroke="#9c27b0" stroke-opacity="0.85" stroke-width="1"/>
</g>
<g fill="#8a92a0" shape-rendering="crispEdges">
<rect x="953" y="77" width="1" height="354"/>
<rect x="60" y="336" width="950" height="1"/>
<rect x="60" y="367" width="950" height="1"/>
<rect x="60" y="398" width="950" height="1"/>
<rect x="60" y="430" width="894" height="1"/>
<rect x="954" y="330" width="3" height="1"/>
<rect x="954" y="301" width="3" height="1"/>
<rect x="954" y="272" width="3" height="1"/>
<rect x="954" y="242" width="3" height="1"/>
<rect x="954" y="213" width="3" height="1"/>
<rect x="954" y="184" width="3" height="1"/>
<rect x="954" y="155" width="3" height="1"/>
<rect x="954" y="126" width="3" height="1"/>
<rect x="954" y="96" width="3" height="1"/>
<rect x="954" y="352" width="3" height="1"/>
<rect x="79" y="431" width="1" height="3"/>
<rect x="191" y="431" width="1" height="3"/>
<rect x="302" y="431" width="1" height="3"/>
<rect x="413" y="431" width="1" height="3"/>
<rect x="524" y="431" width="1" height="3"/>
<rect x="635" y="431" width="1" height="3"/>
<rect x="746" y="431" width="1" height="3"/>
<rect x="858" y="431" width="1" height="3"/>
<rect x="941" y="431" width="1" height="3"/>
</g>
<g font-family="Liberation Sans, sans-serif" font-size="11" fill="#878f9d" stroke="#878f9d" stroke-width="0.3">
<text x="960.5" y="334.3">58000.00</text>
<text x="960.5" y="305.1">59000.00</text>
<text x="960.5" y="275.8">60000.00</text>
<text x="960.5" y="246.6">61000.00</text>
<text x="960.5" y="217.4">62000.00</text>
<text x="960.5" y="188.2">63000.00</text>
<text x="960.5" y="158.9">64000.00</text>
<text x="960.5" y="129.7">65000.00</text>
<text x="960.5" y="100.5">66000.00</text>
<text x="960.5" y="356.6">0.0000</text>
<g clip-path="url(#cps)"><rect x="954" y="396" width="3" height="1" fill="#8a92a0"/><text x="960.5" y="400.6">0.0000</text></g>
</g>
<rect x="953" y="256" width="57" height="17" fill="#f95151"/>
<rect x="953" y="264" width="4" height="1" fill="#fff" fill-opacity="0.7"/>
<text x="960.4" y="268.1" font-family="Liberation Sans, sans-serif" font-size="11" font-weight="bold" fill="#fff" textLength="44" lengthAdjust="spacingAndGlyphs">60258.00</text>
<g clip-path="url(#cpt)" font-family="Liberation Sans, sans-serif" font-size="11" font-weight="bold" fill="#878f9d" text-anchor="middle">
<text x="79.5" y="448" textLength="26.8" lengthAdjust="spacingAndGlyphs">12:00</text>
<text x="191.5" y="448">15</text>
<text x="302.5" y="448" textLength="26.8" lengthAdjust="spacingAndGlyphs">12:00</text>
<text x="413.5" y="448">16</text>
<text x="524.5" y="448" textLength="26.8" lengthAdjust="spacingAndGlyphs">12:00</text>
<text x="635.5" y="448">17</text>
<text x="746.5" y="448" textLength="26.8" lengthAdjust="spacingAndGlyphs">12:00</text>
<text x="858.5" y="448">18</text>
<text x="941.5" y="448" textLength="26.8" lengthAdjust="spacingAndGlyphs">09:00</text>
</g>
<g font-family="Liberation Sans, sans-serif" fill="#868e9c">
<rect x="65" y="90" width="12" height="11.5" rx="2" fill="none" stroke="#6c7380" stroke-width="1"/><line x1="65.5" x2="76.5" y1="95.8" y2="95.8" stroke="#6c7380" stroke-width="1"/>
<text x="84" y="102" font-size="16.2" textLength="161" lengthAdjust="spacingAndGlyphs" stroke="#868e9c" stroke-width="0.3">BTC/USDT, 60, Huobi</text>
<path d="M251.0 95.0 h7 l-3.5 3.5z" fill="#b4b9c3" fill-opacity="0.8"/>
<g font-size="15.3">
<text x="273.3" y="100.6" font-size="13.4" font-family="Liberation Sans, Noto Sans CJK SC, sans-serif">开=</text><text x="297.0" y="100.9" fill="#f95151" textLength="60.0" lengthAdjust="spacingAndGlyphs">60638.99</text>
<text x="367.6" y="100.6" font-size="13.4" font-family="Liberation Sans, Noto Sans CJK SC, sans-serif">高=</text><text x="391.3" y="100.9" fill="#f95151" textLength="60.0" lengthAdjust="spacingAndGlyphs">60798.34</text>
<text x="461.4" y="100.6" font-size="13.4" font-family="Liberation Sans, Noto Sans CJK SC, sans-serif">低=</text><text x="485.0" y="100.9" fill="#f95151" textLength="60.0" lengthAdjust="spacingAndGlyphs">60255.83</text>
<text x="555.0" y="100.6" font-size="13.4" font-family="Liberation Sans, Noto Sans CJK SC, sans-serif">收=</text><text x="578.8" y="100.9" fill="#f95151" textLength="60.0" lengthAdjust="spacingAndGlyphs">60258.00</text>
<text x="651.0" y="100.9" fill="#f95151" textLength="109.8" lengthAdjust="spacingAndGlyphs">−381.67 (−0.63%)</text>
</g>
<text x="65" y="119.6" font-size="11.2" textLength="83.0" lengthAdjust="spacingAndGlyphs" stroke="#868e9c" stroke-width="0.12">MA (5, close, 0)</text>
<path d="M153.2 114.1 h7 l-3.5 3.5z" fill="#b4b9c3" fill-opacity="0.8"/>
<g><rect x="170.2" y="108.4" width="13.8" height="13.4" fill="#b9bcc4" fill-opacity="0.55"/><g stroke="#fff" stroke-opacity="0.85" fill="none"><circle cx="177.1" cy="115.1" r="2.6" stroke-width="2"/><line x1="180.50" y1="115.10" x2="182.10" y2="115.10" stroke-width="1.8"/><line x1="179.50" y1="117.50" x2="180.64" y2="118.64" stroke-width="1.8"/><line x1="177.10" y1="118.50" x2="177.10" y2="120.10" stroke-width="1.8"/><line x1="174.70" y1="117.50" x2="173.56" y2="118.64" stroke-width="1.8"/><line x1="173.70" y1="115.10" x2="172.10" y2="115.10" stroke-width="1.8"/><line x1="174.70" y1="112.70" x2="173.56" y2="111.56" stroke-width="1.8"/><line x1="177.10" y1="111.70" x2="177.10" y2="110.10" stroke-width="1.8"/><line x1="179.50" y1="112.70" x2="180.64" y2="111.56" stroke-width="1.8"/></g><rect x="187.3" y="108.4" width="13.8" height="13.4" fill="#b9bcc4" fill-opacity="0.55"/><path d="M189.8 110.4 l9 9 M198.6 110.4 l-9 9" stroke="#fff" stroke-opacity="0.85" stroke-width="1.6" fill="none"/></g>
<text x="210.5" y="119.6" font-size="11.2" fill="#e81be0" textLength="46.6" lengthAdjust="spacingAndGlyphs" stroke="#e81be0" stroke-width="0.12">60625.07</text>
<text x="65" y="139.9" font-size="11.2" textLength="89.0" lengthAdjust="spacingAndGlyphs" stroke="#868e9c" stroke-width="0.12">MA (10, close, 0)</text>
<path d="M160.3 134.4 h7 l-3.5 3.5z" fill="#b4b9c3" fill-opacity="0.8"/>
<g><rect x="177.3" y="128.7" width="13.8" height="13.4" fill="#b9bcc4" fill-opacity="0.55"/><g stroke="#fff" stroke-opacity="0.85" fill="none"><circle cx="184.2" cy="135.4" r="2.6" stroke-width="2"/><line x1="187.60" y1="135.40" x2="189.20" y2="135.40" stroke-width="1.8"/><line x1="186.60" y1="137.80" x2="187.74" y2="138.94" stroke-width="1.8"/><line x1="184.20" y1="138.80" x2="184.20" y2="140.40" stroke-width="1.8"/><line x1="181.80" y1="137.80" x2="180.66" y2="138.94" stroke-width="1.8"/><line x1="180.80" y1="135.40" x2="179.20" y2="135.40" stroke-width="1.8"/><line x1="181.80" y1="133.00" x2="180.66" y2="131.86" stroke-width="1.8"/><line x1="184.20" y1="132.00" x2="184.20" y2="130.40" stroke-width="1.8"/><line x1="186.60" y1="133.00" x2="187.74" y2="131.86" stroke-width="1.8"/></g><rect x="194.4" y="128.7" width="13.8" height="13.4" fill="#b9bcc4" fill-opacity="0.55"/><path d="M196.9 130.7 l9 9 M205.7 130.7 l-9 9" stroke="#fff" stroke-opacity="0.85" stroke-width="1.6" fill="none"/></g>
<text x="216.0" y="139.9" font-size="11.2" fill="#2b8cf0" textLength="47.0" lengthAdjust="spacingAndGlyphs" stroke="#2b8cf0" stroke-width="0.12">60447.41</text>
<text x="65" y="160.0" font-size="11.2" textLength="89.0" lengthAdjust="spacingAndGlyphs" stroke="#868e9c" stroke-width="0.12">MA (30, close, 0)</text>
<path d="M160.3 154.5 h7 l-3.5 3.5z" fill="#b4b9c3" fill-opacity="0.8"/>
<g><rect x="177.3" y="148.8" width="13.8" height="13.4" fill="#b9bcc4" fill-opacity="0.55"/><g stroke="#fff" stroke-opacity="0.85" fill="none"><circle cx="184.2" cy="155.5" r="2.6" stroke-width="2"/><line x1="187.60" y1="155.50" x2="189.20" y2="155.50" stroke-width="1.8"/><line x1="186.60" y1="157.90" x2="187.74" y2="159.04" stroke-width="1.8"/><line x1="184.20" y1="158.90" x2="184.20" y2="160.50" stroke-width="1.8"/><line x1="181.80" y1="157.90" x2="180.66" y2="159.04" stroke-width="1.8"/><line x1="180.80" y1="155.50" x2="179.20" y2="155.50" stroke-width="1.8"/><line x1="181.80" y1="153.10" x2="180.66" y2="151.96" stroke-width="1.8"/><line x1="184.20" y1="152.10" x2="184.20" y2="150.50" stroke-width="1.8"/><line x1="186.60" y1="153.10" x2="187.74" y2="151.96" stroke-width="1.8"/></g><rect x="194.4" y="148.8" width="13.8" height="13.4" fill="#b9bcc4" fill-opacity="0.55"/><path d="M196.9 150.8 l9 9 M205.7 150.8 l-9 9" stroke="#fff" stroke-opacity="0.85" stroke-width="1.6" fill="none"/></g>
<text x="216.0" y="160.0" font-size="11.2" fill="#22e070" textLength="47.0" lengthAdjust="spacingAndGlyphs" stroke="#22e070" stroke-width="0.12">61308.43</text>
<text x="65" y="179.9" font-size="11.2" textLength="89.0" lengthAdjust="spacingAndGlyphs" stroke="#868e9c" stroke-width="0.12">MA (60, close, 0)</text>
<path d="M160.3 174.4 h7 l-3.5 3.5z" fill="#b4b9c3" fill-opacity="0.8"/>
<g><rect x="177.3" y="168.7" width="13.8" height="13.4" fill="#b9bcc4" fill-opacity="0.55"/><g stroke="#fff" stroke-opacity="0.85" fill="none"><circle cx="184.2" cy="175.4" r="2.6" stroke-width="2"/><line x1="187.60" y1="175.40" x2="189.20" y2="175.40" stroke-width="1.8"/><line x1="186.60" y1="177.80" x2="187.74" y2="178.94" stroke-width="1.8"/><line x1="184.20" y1="178.80" x2="184.20" y2="180.40" stroke-width="1.8"/><line x1="181.80" y1="177.80" x2="180.66" y2="178.94" stroke-width="1.8"/><line x1="180.80" y1="175.40" x2="179.20" y2="175.40" stroke-width="1.8"/><line x1="181.80" y1="173.00" x2="180.66" y2="171.86" stroke-width="1.8"/><line x1="184.20" y1="172.00" x2="184.20" y2="170.40" stroke-width="1.8"/><line x1="186.60" y1="173.00" x2="187.74" y2="171.86" stroke-width="1.8"/></g><rect x="194.4" y="168.7" width="13.8" height="13.4" fill="#b9bcc4" fill-opacity="0.55"/><path d="M196.9 170.7 l9 9 M205.7 170.7 l-9 9" stroke="#fff" stroke-opacity="0.85" stroke-width="1.6" fill="none"/></g>
<text x="216.0" y="179.9" font-size="11.2" fill="#a03aa8" textLength="47.0" lengthAdjust="spacingAndGlyphs" stroke="#a03aa8" stroke-width="0.12">61721.21</text>
<text x="65" y="199.9" font-size="11.2" textLength="52.2" lengthAdjust="spacingAndGlyphs" stroke="#868e9c" stroke-width="0.12">BB (30, 3)</text>
<path d="M123.0 194.4 h7 l-3.5 3.5z" fill="#b4b9c3" fill-opacity="0.8"/>
<g><rect x="140.0" y="188.7" width="13.8" height="13.4" fill="#b9bcc4" fill-opacity="0.55"/><g stroke="#fff" stroke-opacity="0.85" fill="none"><circle cx="146.9" cy="195.4" r="2.6" stroke-width="2"/><line x1="150.30" y1="195.40" x2="151.90" y2="195.40" stroke-width="1.8"/><line x1="149.30" y1="197.80" x2="150.44" y2="198.94" stroke-width="1.8"/><line x1="146.90" y1="198.80" x2="146.90" y2="200.40" stroke-width="1.8"/><line x1="144.50" y1="197.80" x2="143.36" y2="198.94" stroke-width="1.8"/><line x1="143.50" y1="195.40" x2="141.90" y2="195.40" stroke-width="1.8"/><line x1="144.50" y1="193.00" x2="143.36" y2="191.86" stroke-width="1.8"/><line x1="146.90" y1="192.00" x2="146.90" y2="190.40" stroke-width="1.8"/><line x1="149.30" y1="193.00" x2="150.44" y2="191.86" stroke-width="1.8"/></g><rect x="157.1" y="188.7" width="13.8" height="13.4" fill="#b9bcc4" fill-opacity="0.55"/><path d="M159.6 190.7 l9 9 M168.4 190.7 l-9 9" stroke="#fff" stroke-opacity="0.85" stroke-width="1.6" fill="none"/></g>
<text x="179.5" y="199.9" font-size="11.2" fill="#f02020" textLength="59.5" lengthAdjust="spacingAndGlyphs" stroke="#f02020" stroke-width="0.12">61308.4307</text>
<text x="250.5" y="199.9" font-size="11.2" fill="#2020f0" textLength="59.5" lengthAdjust="spacingAndGlyphs" stroke="#2020f0" stroke-width="0.12">63490.3175</text>
<text x="321.6" y="199.9" font-size="11.2" fill="#2020f0" textLength="59.5" lengthAdjust="spacingAndGlyphs" stroke="#2020f0" stroke-width="0.12">59126.5438</text>
<text x="65" y="355.6" font-size="11.2" textLength="124.8" lengthAdjust="spacingAndGlyphs" stroke="#868e9c" stroke-width="0.12">MACD (12, 26, close, 9)</text>
<path d="M194.8 350.1 h7 l-3.5 3.5z" fill="#b4b9c3" fill-opacity="0.8"/>
<g><rect x="211.8" y="344.4" width="13.8" height="13.4" fill="#b9bcc4" fill-opacity="0.55"/><g stroke="#fff" stroke-opacity="0.85" fill="none"><circle cx="218.7" cy="351.1" r="2.6" stroke-width="2"/><line x1="222.10" y1="351.10" x2="223.70" y2="351.10" stroke-width="1.8"/><line x1="221.10" y1="353.50" x2="222.24" y2="354.64" stroke-width="1.8"/><line x1="218.70" y1="354.50" x2="218.70" y2="356.10" stroke-width="1.8"/><line x1="216.30" y1="353.50" x2="215.16" y2="354.64" stroke-width="1.8"/><line x1="215.30" y1="351.10" x2="213.70" y2="351.10" stroke-width="1.8"/><line x1="216.30" y1="348.70" x2="215.16" y2="347.56" stroke-width="1.8"/><line x1="218.70" y1="347.70" x2="218.70" y2="346.10" stroke-width="1.8"/><line x1="221.10" y1="348.70" x2="222.24" y2="347.56" stroke-width="1.8"/></g><rect x="228.9" y="344.4" width="13.8" height="13.4" fill="#b9bcc4" fill-opacity="0.55"/><path d="M231.4 346.4 l9 9 M240.2 346.4 l-9 9" stroke="#fff" stroke-opacity="0.85" stroke-width="1.6" fill="none"/></g>
<text x="254.7" y="355.6" font-size="11.2" fill="#f02020" textLength="42.0" lengthAdjust="spacingAndGlyphs" stroke="#f02020" stroke-width="0.12">-23.4781</text>
<text x="309.7" y="355.6" font-size="11.2" fill="#2020f0" textLength="50.3" lengthAdjust="spacingAndGlyphs" stroke="#2020f0" stroke-width="0.12">-352.5141</text>
<text x="372.3" y="355.6" font-size="11.2" fill="#f02020" textLength="50.0" lengthAdjust="spacingAndGlyphs" stroke="#f02020" stroke-width="0.12">-329.0361</text>
<text x="65" y="386.5" font-size="11.2" textLength="82.3" lengthAdjust="spacingAndGlyphs" stroke="#868e9c" stroke-width="0.12">Stoch (14, 1, 3)</text>
<path d="M153.0 381.0 h7 l-3.5 3.5z" fill="#b4b9c3" fill-opacity="0.8"/>
<g><rect x="170.0" y="375.3" width="13.8" height="13.4" fill="#b9bcc4" fill-opacity="0.55"/><g stroke="#fff" stroke-opacity="0.85" fill="none"><circle cx="176.9" cy="382.0" r="2.6" stroke-width="2"/><line x1="180.30" y1="382.00" x2="181.90" y2="382.00" stroke-width="1.8"/><line x1="179.30" y1="384.40" x2="180.44" y2="385.54" stroke-width="1.8"/><line x1="176.90" y1="385.40" x2="176.90" y2="387.00" stroke-width="1.8"/><line x1="174.50" y1="384.40" x2="173.36" y2="385.54" stroke-width="1.8"/><line x1="173.50" y1="382.00" x2="171.90" y2="382.00" stroke-width="1.8"/><line x1="174.50" y1="379.60" x2="173.36" y2="378.46" stroke-width="1.8"/><line x1="176.90" y1="378.60" x2="176.90" y2="377.00" stroke-width="1.8"/><line x1="179.30" y1="379.60" x2="180.44" y2="378.46" stroke-width="1.8"/></g><rect x="187.1" y="375.3" width="13.8" height="13.4" fill="#b9bcc4" fill-opacity="0.55"/><path d="M189.6 377.3 l9 9 M198.4 377.3 l-9 9" stroke="#fff" stroke-opacity="0.85" stroke-width="1.6" fill="none"/></g>
<text x="209.4" y="386.5" font-size="11.2" fill="#2020f0" textLength="41.0" lengthAdjust="spacingAndGlyphs" stroke="#2020f0" stroke-width="0.12">29.0557</text>
<text x="261.8" y="386.5" font-size="11.2" fill="#f02020" textLength="41.2" lengthAdjust="spacingAndGlyphs" stroke="#f02020" stroke-width="0.12">35.1234</text>
<text x="65" y="417.0" font-size="11.2" textLength="40.2" lengthAdjust="spacingAndGlyphs" stroke="#868e9c" stroke-width="0.12">RSI (14)</text>
<path d="M111.0 411.5 h7 l-3.5 3.5z" fill="#b4b9c3" fill-opacity="0.8"/>
<g><rect x="128.0" y="405.8" width="13.8" height="13.4" fill="#b9bcc4" fill-opacity="0.55"/><g stroke="#fff" stroke-opacity="0.85" fill="none"><circle cx="134.9" cy="412.5" r="2.6" stroke-width="2"/><line x1="138.30" y1="412.50" x2="139.90" y2="412.50" stroke-width="1.8"/><line x1="137.30" y1="414.90" x2="138.44" y2="416.04" stroke-width="1.8"/><line x1="134.90" y1="415.90" x2="134.90" y2="417.50" stroke-width="1.8"/><line x1="132.50" y1="414.90" x2="131.36" y2="416.04" stroke-width="1.8"/><line x1="131.50" y1="412.50" x2="129.90" y2="412.50" stroke-width="1.8"/><line x1="132.50" y1="410.10" x2="131.36" y2="408.96" stroke-width="1.8"/><line x1="134.90" y1="409.10" x2="134.90" y2="407.50" stroke-width="1.8"/><line x1="137.30" y1="410.10" x2="138.44" y2="408.96" stroke-width="1.8"/></g><rect x="145.1" y="405.8" width="13.8" height="13.4" fill="#b9bcc4" fill-opacity="0.55"/><path d="M147.6 407.8 l9 9 M156.4 407.8 l-9 9" stroke="#fff" stroke-opacity="0.85" stroke-width="1.6" fill="none"/></g>
<text x="167.3" y="417.0" font-size="11.2" fill="#8e1b9c" textLength="41.0" lengthAdjust="spacingAndGlyphs" stroke="#8e1b9c" stroke-width="0.12">39.0642</text>
</g>
<circle cx="89.6" cy="305.8" r="16.4" fill="#fff" stroke="#e6e8ec" stroke-width="1"/>
<g transform="translate(9.6 33.6) scale(0.9)"><path d="M79.5 311.5 a5 5 0 0 1 1.2-9.6 a5.6 5.6 0 0 1 10-2.3 a5.2 5.2 0 0 1 6.8 4.6 a3.8 3.8 0 0 1 -0.6 7.4z" fill="#2e9fea"/><path d="M80 307.8 l5.6-4.4 l4.6 4.6 l5.4-4.4" fill="none" stroke="#fff" stroke-width="1.8" stroke-linejoin="round"/></g>
<text x="116" y="310.3" font-family="Liberation Sans, sans-serif" font-size="14.2" fill="#3a9ee8" textLength="133.5" lengthAdjust="spacingAndGlyphs">Chart by TradingView</text>
<circle cx="473.8" cy="408.3" r="14" fill="#fff" fill-opacity="0.8"/>
<circle cx="510.0" cy="408.3" r="14" fill="#fff" fill-opacity="0.8"/>
<circle cx="559.8" cy="408.3" r="14" fill="#fff" fill-opacity="0.8"/>
<circle cx="596.6" cy="408.3" r="14" fill="#fff" fill-opacity="0.8"/>
<circle cx="646.1" cy="408.3" r="14" fill="#fff" fill-opacity="0.8"/>
<g stroke="#6b7888" stroke-width="2" fill="none" stroke-linecap="square">
<path d="M469.3 408.3h9"/>
<path d="M505.5 408.3h9.4M510.2 403.6v9.4"/>
<path d="M562.3 402l-6 6.3l6 6.3" stroke-linecap="butt"/>
<path d="M594 402l6 6.3l-6 6.3" stroke-linecap="butt"/>
<path d="M646.1 402.4a6.3 6.3 0 1 1 -6.3 6.3" stroke-linecap="butt" stroke-width="1.9"/>
</g>
<path d="M642.2 402.5l5-3.6v7.000z" fill="#6b7888"/>
<rect x="4" y="435" width="52" height="17" fill="#5d646f"/>
<g stroke="#1e96f0" stroke-width="1" shape-rendering="crispEdges"><line x1="19" x2="27" y1="97.5" y2="97.5"/><line x1="34" x2="42" y1="97.5" y2="97.5"/><line x1="30.5" x2="30.5" y1="86" y2="94"/><line x1="30.5" x2="30.5" y1="101" y2="109"/></g>
<g stroke="#4b515c" stroke-width="1.1" fill="#fff">
<line x1="22.8" y1="140" x2="36.9" y2="125.9"/><circle cx="21.2" cy="141.6" r="2.3"/><circle cx="38.5" cy="124.3" r="2.3"/>
<line x1="22.8" y1="165" x2="29.9" y2="158.2"/><line x1="22.8" y1="175.9" x2="35.6" y2="163.3"/><line x1="34.1" y1="175.9" x2="41.2" y2="169.3"/><line x1="22.8" y1="168.2" x2="31" y2="175.9"/>
<circle cx="21.2" cy="166.6" r="2.3"/><circle cx="21.2" cy="177.5" r="2.3"/><circle cx="32.5" cy="177.5" r="2.3"/>
<path d="M18.8 213.8 L24.4 204.8 Q27.2 201.2 30.6 203 Q34.2 205.6 32.2 209.4 Q30.6 212.8 27.6 213.7 Z" fill="none"/>
<path d="M33.6 198.4 Q31.8 201.6 34.9 203.5 L43.2 197.6" fill="none"/>
<path d="M24.5 236v-3.4h12.2v3.4M30.5 232.6v17.2M27.8 249.8h5.4" fill="none"/>
<path d="M21.2 285.2L24.6 268.6L28.6 275.7L36.5 269.3L39.6 282.6L28.6 275.7L21.2 285.2" fill="none"/>
<circle cx="24.6" cy="268.6" r="2.2"/>
<circle cx="36.5" cy="269.3" r="2.2"/>
<circle cx="28.6" cy="275.7" r="2.2"/>
<circle cx="39.6" cy="282.6" r="2.2"/>
<circle cx="21.2" cy="285.2" r="2.2"/>
<path d="M22.4 304.5H40.8M22.4 315.5H38.6M22.4 322.5H40.8M30.5 307v13.4" fill="none"/>
<path d="M28.6 309l1.9-2.6l1.9 2.6zM28.6 318.4l1.9 2.6l1.9-2.6z" fill="#4b515c" stroke="none"/>
<circle cx="20.2" cy="304.5" r="2.1"/>
<circle cx="20.2" cy="315.5" r="2.1"/>
<circle cx="40.8" cy="315.5" r="2.1"/>
<circle cx="20.2" cy="322.5" r="2.1"/>
<g transform="translate(30.3 398) rotate(-45)"><rect x="-13" y="-3.4" width="26" height="6.8" rx="1" fill="none"/><path d="M-8.5 -3.4v3M-4.3 -3.4v3M0 -3.4v3M4.3 -3.4v3M8.5 -3.4v3" fill="none"/></g>
<circle cx="28.3" cy="432.5" r="8" fill="none"/><path d="M24.3 432.5h8M28.3 428.5v8M34 438.2l4 4" fill="none"/>
</g>
<path d="M36.8 349.8H25.5M31 343.6l-6.3 6.2l6.3 6.2" fill="none" stroke="#4b515c" stroke-width="3" stroke-linecap="round" stroke-linejoin="round"/>
<rect x="4" y="373" width="52" height="1" fill="#e1e6ef"/>
<path d="M30.2 384.5l-2.2 3l2.2 3" transform="translate(25.6 0)" fill="none" stroke="#b9c6dc" stroke-width="1"/>
<path d="M23.5 443l6.7 6.2l6.7-6.2" fill="none" stroke="#fff" stroke-width="1.4"/>
</svg>
</body></html>
